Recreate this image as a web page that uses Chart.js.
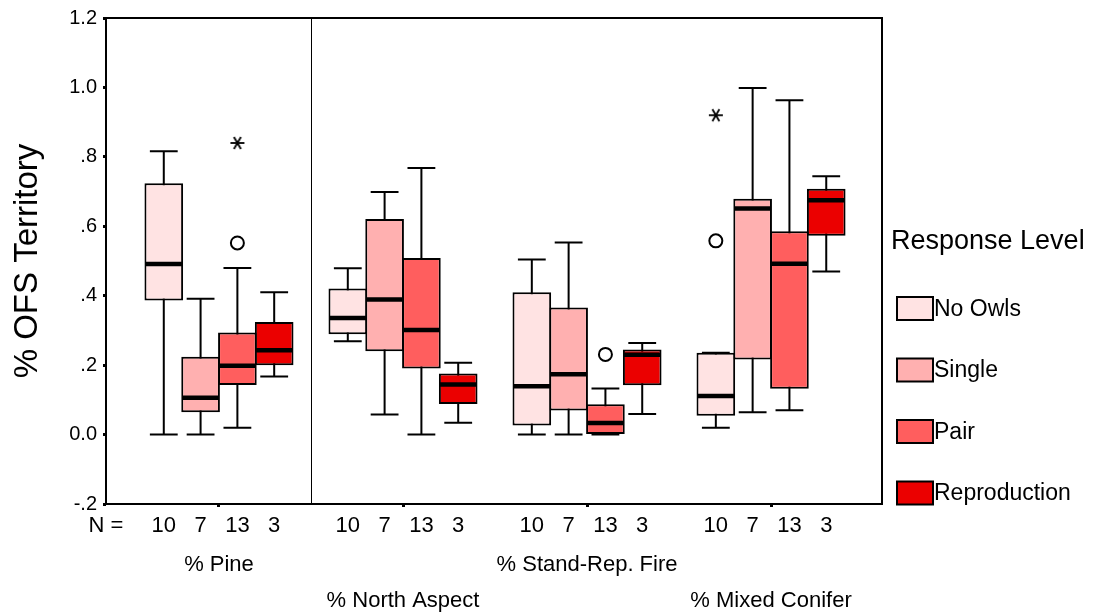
<!DOCTYPE html>
<html>
<head>
<meta charset="utf-8">
<script src="https://cdn.jsdelivr.net/npm/chart.js@4.4.1/dist/chart.umd.min.js"></script>
<style>
html, body { margin: 0; padding: 0; background: #ffffff; }
#wrap { width: 1093px; height: 612px; }
</style>
</head>
<body>
<div id="wrap"><canvas id="c" width="1093" height="612"></canvas></div>
<script>
// ---------------- DATA ----------------
const categories = ['% Pine', '% North Aspect', '% Stand-Rep. Fire', '% Mixed Conifer'];
const seriesNames = ['No Owls', 'Single', 'Pair', 'Reproduction'];
const sampleSizes = [10, 7, 13, 3];
const yTickValues = [-0.2, 0, 0.2, 0.4, 0.6, 0.8, 1.0, 1.2];
const yTickLabels = ['-.2', '0.0', '.2', '.4', '.6', '.8', '1.0', '1.2'];

// each entry: [lower whisker, Q1, median, Q3, upper whisker], one per category
const noOwlsStats = [
  [0.000, 0.386, 0.491, 0.724, 0.816],
  [0.269, 0.289, 0.336, 0.421, 0.479],
  [0.000, 0.026, 0.139, 0.410, 0.504],
  [0.020, 0.054, 0.111, 0.236, 0.236]
];
const singleStats = [
  [0.000, 0.064, 0.106, 0.224, 0.391],
  [0.058, 0.240, 0.389, 0.621, 0.699],
  [0.000, 0.069, 0.174, 0.366, 0.553],
  [0.064, 0.216, 0.651, 0.679, 0.998]
];
const pairStats = [
  [0.020, 0.143, 0.198, 0.294, 0.480],
  [0.000, 0.190, 0.301, 0.509, 0.768],
  [0.000, 0.000, 0.033, 0.087, 0.133],
  [0.070, 0.132, 0.492, 0.586, 0.963]
];
const reproductionStats = [
  [0.167, 0.200, 0.243, 0.324, 0.410],
  [0.034, 0.088, 0.144, 0.176, 0.207],
  [0.059, 0.142, 0.230, 0.245, 0.264],
  [0.470, 0.573, 0.675, 0.708, 0.744]
];

// outliers (o) and extremes (*): series index, category index, value
const outlierSeries   = [2, 2, 0];
const outlierCategory = [0, 2, 3];
const outlierValues   = [0.552, 0.231, 0.558];
const extremeSeries   = [2, 0];
const extremeCategory = [0, 3];
const extremeValues   = [0.840, 0.920];

// ---------------- STYLE ----------------
const allStats = [noOwlsStats, singleStats, pairStats, reproductionStats];
const seriesColors = ['#FFE3E3', '#FFB0B0', '#FF5E5E', '#EB0000'];
const FONT = "'Liberation Sans', Arial, Helvetica, sans-serif";
const boxStep = 0.2;
const seriesOffset = s => (s - (seriesNames.length - 1) / 2) * boxStep;

function makeAsterisk() {
  const c = document.createElement('canvas');
  c.width = 18; c.height = 18;
  const g = c.getContext('2d');
  g.strokeStyle = '#000';
  g.lineWidth = 1.8;
  g.lineCap = 'butt';
  for (const a of [0, Math.PI / 3, 2 * Math.PI / 3]) {
    g.beginPath();
    g.moveTo(9 - 7 * Math.cos(a), 9 - 7 * Math.sin(a));
    g.lineTo(9 + 7 * Math.cos(a), 9 + 7 * Math.sin(a));
    g.stroke();
  }
  return c;
}

const barDatasets = allStats.map((stats, s) => ({
  type: 'bar',
  label: seriesNames[s],
  data: stats.map((st, c) => ({ x: c + seriesOffset(s), y: [st[1], st[3]] })),
  backgroundColor: seriesColors[s],
  borderColor: '#000',
  borderWidth: 2,
  borderSkipped: false,
  grouped: false,
  barPercentage: 1.05,
  categoryPercentage: 1
}));

const outlierDataset = {
  type: 'scatter',
  label: 'outliers',
  data: outlierValues.map((v, i) => ({ x: outlierCategory[i] + seriesOffset(outlierSeries[i]), y: v })),
  pointStyle: 'circle',
  pointRadius: 6.5,
  borderColor: '#000',
  borderWidth: 2,
  backgroundColor: 'rgba(255,255,255,0)'
};
const extremeDataset = {
  type: 'scatter',
  label: 'extremes',
  data: extremeValues.map((v, i) => ({ x: extremeCategory[i] + seriesOffset(extremeSeries[i]), y: v })),
  pointStyle: makeAsterisk(),
  pointRadius: 7
};

// ---------------- PLUGINS ----------------
const boxPlotPlugin = {
  id: 'boxPlot',
  beforeDatasetsDraw(chart) {
    const { ctx, scales: { x, y } } = chart;
    ctx.save();
    ctx.strokeStyle = '#000';
    ctx.lineWidth = 2;
    allStats.forEach((stats, s) => {
      const meta = chart.getDatasetMeta(s);
      stats.forEach((st, c) => {
        const bar = meta.data[c];
        const px = x.getPixelForValue(c + seriesOffset(s));
        const cap = bar.width * 0.36;
        const yLo = y.getPixelForValue(st[0]);
        const yHi = y.getPixelForValue(st[4]);
        ctx.beginPath();
        ctx.moveTo(px, yLo); ctx.lineTo(px, yHi);
        ctx.moveTo(px - cap, yLo); ctx.lineTo(px + cap, yLo);
        ctx.moveTo(px - cap, yHi); ctx.lineTo(px + cap, yHi);
        ctx.stroke();
      });
    });
    ctx.restore();
  },
  afterDatasetsDraw(chart) {
    const { ctx, chartArea, scales: { x, y } } = chart;
    ctx.save();
    // medians
    ctx.strokeStyle = '#000';
    ctx.lineWidth = 4.5;
    allStats.forEach((stats, s) => {
      const meta = chart.getDatasetMeta(s);
      stats.forEach((st, c) => {
        const bar = meta.data[c];
        const px = x.getPixelForValue(c + seriesOffset(s));
        const ym = y.getPixelForValue(st[2]);
        ctx.beginPath();
        ctx.moveTo(px - bar.width / 2 + 1, ym);
        ctx.lineTo(px + bar.width / 2 - 1, ym);
        ctx.stroke();
      });
    });
    // divider line after first variable
    const dx = Math.round(x.getPixelForValue(0.5)) + 0.5;
    ctx.lineWidth = 1;
    ctx.beginPath();
    ctx.moveTo(dx, chartArea.top);
    ctx.lineTo(dx, chartArea.bottom);
    ctx.stroke();
    // frame
    ctx.lineWidth = 2;
    ctx.strokeRect(chartArea.left, chartArea.top, chartArea.right - chartArea.left, chartArea.bottom - chartArea.top);
    ctx.restore();
  },
  afterDraw(chart) {
    const { ctx, chartArea, scales: { x } } = chart;
    ctx.save();
    ctx.fillStyle = '#000';
    // sample sizes row
    ctx.font = '22px ' + FONT;
    ctx.textAlign = 'center';
    ctx.textBaseline = 'middle';
    const rowY = x.top + 22;
    ctx.fillText('N =', chartArea.left, rowY);
    categories.forEach((cat, c) => {
      sampleSizes.forEach((n, s) => {
        ctx.fillText(String(n), x.getPixelForValue(c + seriesOffset(s)), rowY);
      });
    });
    // legend
    const lx = chartArea.right + 9;
    ctx.textAlign = 'left';
    ctx.font = '27px ' + FONT;
    ctx.fillText('Response Level', lx, 242);
    ctx.font = '23px ' + FONT;
    seriesNames.forEach((name, s) => {
      const cy = 308.5 + s * 61.5;
      const bx = chartArea.right + 15;
      ctx.fillStyle = seriesColors[s];
      ctx.fillRect(bx, cy - 11.5, 36, 23);
      ctx.strokeStyle = '#000';
      ctx.lineWidth = 2;
      ctx.strokeRect(bx, cy - 11.5, 36, 23);
      ctx.fillStyle = '#000';
      ctx.fillText(name, bx + 37, cy + 1);
    });
    ctx.restore();
  }
};

// ---------------- CHART ----------------
new Chart(document.getElementById('c'), {
  type: 'bar',
  data: { datasets: [...barDatasets, outlierDataset, extremeDataset] },
  options: {
    responsive: false,
    animation: false,
    events: [],
    layout: { padding: { top: 15, right: 211, bottom: 0, left: 0 } },
    plugins: { legend: { display: false }, tooltip: { enabled: false } },
    scales: {
      x: {
        type: 'linear',
        offset: false,
        min: -0.614,
        max: 3.603,
        afterBuildTicks: scale => { scale.ticks = categories.map((_, i) => ({ value: i })); },
        afterFit: scale => { scale.height = 108; },
        grid: { display: true, offset: false, drawOnChartArea: false, drawTicks: true, tickLength: 3, tickWidth: 3, tickColor: '#000' },
        border: { display: false },
        ticks: {
          autoSkip: false,
          maxRotation: 0,
          minRotation: 0,
          padding: 40,
          color: '#000',
          font: { family: FONT, size: 22, lineHeight: 36 / 22 },
          callback: (v, i) => (i % 2 === 0 ? categories[i] : ['', categories[i]])
        }
      },
      y: {
        type: 'linear',
        min: -0.2,
        max: 1.2,
        afterBuildTicks: scale => { scale.ticks = yTickValues.map(v => ({ value: v })); },
        afterFit: scale => { scale.width = 106; },
        grid: { display: true, drawOnChartArea: false, drawTicks: true, tickLength: 3, tickWidth: 3, tickColor: '#000' },
        border: { display: false },
        title: {
          display: true,
          text: '% OFS Territory',
          color: '#000',
          font: { family: FONT, size: 33 },
          padding: { top: 8, bottom: 0 }
        },
        ticks: {
          padding: 6,
          color: '#000',
          font: { family: FONT, size: 20 },
          callback: (v, i) => yTickLabels[i]
        }
      }
    }
  },
  plugins: [boxPlotPlugin]
});
</script>
</body>
</html>
